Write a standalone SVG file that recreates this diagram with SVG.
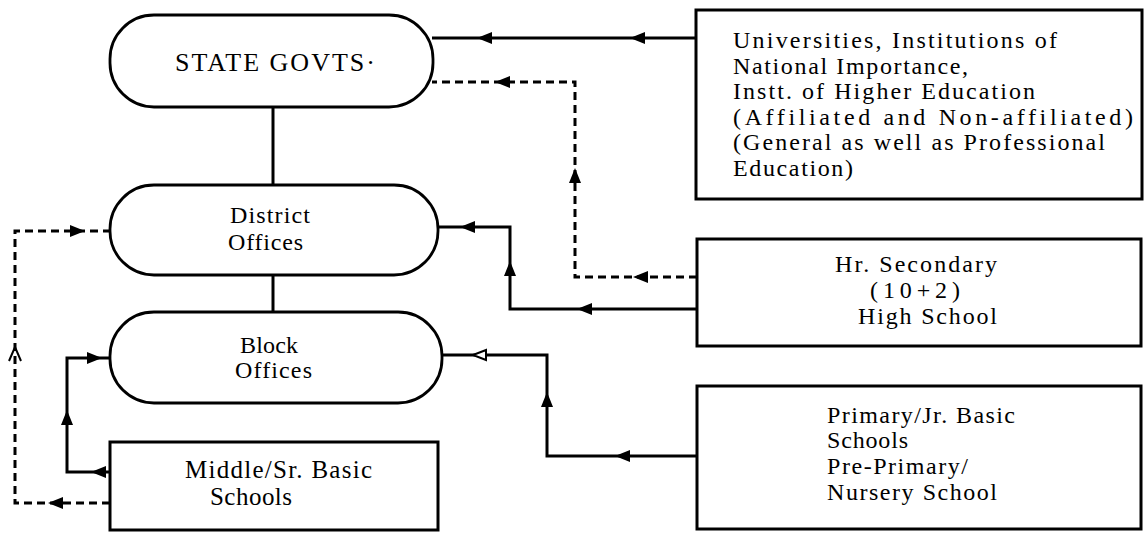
<svg xmlns="http://www.w3.org/2000/svg" width="1145" height="533" viewBox="0 0 1145 533">
<style>
  .box{fill:#fff;stroke:#000;stroke-width:3}
  .pill{fill:#fff;stroke:#000;stroke-width:2.8}
  .ln{fill:none;stroke:#000;stroke-width:3;stroke-linejoin:miter}
  .dash{fill:none;stroke:#000;stroke-width:3;stroke-dasharray:8 5}
  .t{font-family:"Liberation Serif","Times New Roman",serif;fill:#000}
  .r{font-size:24px}
  .h{font-size:24px}
  .l{font-size:24px}
</style>
<defs>
  <path id="ah" d="M0,0 L15,-6 L15,6 Z" fill="#000"/>
  <path id="aho" d="M0,0 L13,-5 L13,5 Z" fill="#fff" stroke="#000" stroke-width="2"/>
</defs>

<g id="connectors">
  <!-- hierarchy lines -->
  <line class="ln" x1="273" y1="107" x2="273" y2="185"/>
  <line class="ln" x1="273" y1="275" x2="273" y2="312"/>
  <!-- Universities -> State -->
  <line class="ln" x1="696" y1="38" x2="432" y2="38"/>
  <use href="#ah" transform="translate(477,38)"/>
  <use href="#ah" transform="translate(630,38)"/>
  <!-- Hr Secondary -> State (dashed) -->
  <polyline class="dash" points="697,277 575,277 575,82 432,82"/>
  <use href="#ah" transform="translate(633,277)"/>
  <use href="#ah" transform="translate(575,168) rotate(90)"/>
  <use href="#ah" transform="translate(495,82)"/>
  <!-- Hr Secondary -> District -->
  <polyline class="ln" points="697,309 510,309 510,227 438,227"/>
  <use href="#ah" transform="translate(577,309)"/>
  <use href="#ah" transform="translate(510,261) rotate(90)"/>
  <use href="#ah" transform="translate(460,227)"/>
  <!-- Primary -> Block -->
  <polyline class="ln" points="697,456 547,456 547,355 442,355"/>
  <use href="#ah" transform="translate(615,456)"/>
  <use href="#ah" transform="translate(547,392) rotate(90)"/>
  <use href="#aho" transform="translate(473,355)"/>
  <!-- Middle -> District (dashed) -->
  <polyline class="dash" points="110,503 15,503 15,231 110,231"/>
  <use href="#ah" transform="translate(48,503)"/>
  <path d="M9,361 L15,347 L21,361" fill="none" stroke="#000" stroke-width="2"/>
  <use href="#ah" transform="translate(85,231) rotate(180)"/>
  <!-- Middle -> Block -->
  <polyline class="ln" points="110,472 67,472 67,358 110,358"/>
  <use href="#ah" transform="translate(91,472)"/>
  <use href="#ah" transform="translate(67,410) rotate(90)"/>
  <use href="#ah" transform="translate(102,358) rotate(180)"/>
</g>

<g id="state">
  <rect class="pill" x="110" y="15" width="323" height="92" rx="44" ry="44"/>
  <text class="t" x="175" y="71" font-size="26" textLength="200" lengthAdjust="spacing">STATE GOVTS·</text>
</g>

<g id="district">
  <rect class="pill" x="110" y="185" width="328" height="90" rx="44" ry="44"/>
  <text class="t l" x="230" y="223" textLength="80" lengthAdjust="spacing">District</text>
  <text class="t l" x="228" y="250" textLength="75" lengthAdjust="spacing">Offices</text>
</g>

<g id="block">
  <rect class="pill" x="110" y="312" width="332" height="91" rx="44" ry="44"/>
  <text class="t l" x="240" y="353" textLength="58" lengthAdjust="spacing">Block</text>
  <text class="t l" x="235" y="378" textLength="77" lengthAdjust="spacing">Offices</text>
</g>

<g id="middle">
  <rect class="box" x="110" y="442" width="328" height="88"/>
  <text class="t" x="185" y="478" font-size="25" textLength="187" lengthAdjust="spacing">Middle/Sr. Basic</text>
  <text class="t" x="210" y="505" font-size="25" textLength="82" lengthAdjust="spacing">Schools</text>
</g>

<g id="universities">
  <rect class="box" x="696" y="10" width="446" height="189"/>
  <text class="t r" x="733" y="48" textLength="324" lengthAdjust="spacing">Universities, Institutions of</text>
  <text class="t r" x="733" y="73.5" textLength="235" lengthAdjust="spacing">National Importance,</text>
  <text class="t r" x="733" y="99" textLength="302" lengthAdjust="spacing">Instt. of Higher Education</text>
  <text class="t r" x="733" y="124.5" textLength="400" lengthAdjust="spacing">(Affiliated and Non-affiliated)</text>
  <text class="t r" x="733" y="150" textLength="372" lengthAdjust="spacing">(General as well as Professional</text>
  <text class="t r" x="733" y="175.5" textLength="120" lengthAdjust="spacing">Education)</text>
</g>

<g id="hrsecondary">
  <rect class="box" x="697" y="239" width="444" height="107"/>
  <text class="t h" x="835" y="272" textLength="162" lengthAdjust="spacing">Hr. Secondary</text>
  <text class="t h" x="870" y="298" textLength="90" lengthAdjust="spacing">(10+2)</text>
  <text class="t h" x="858" y="324" textLength="139" lengthAdjust="spacing">High School</text>
</g>

<g id="primary">
  <rect class="box" x="697" y="386" width="444" height="143"/>
  <text class="t r" x="827" y="423" textLength="188" lengthAdjust="spacing">Primary/Jr. Basic</text>
  <text class="t r" x="827" y="448" textLength="81" lengthAdjust="spacing">Schools</text>
  <text class="t r" x="827" y="474" textLength="141" lengthAdjust="spacing">Pre-Primary/</text>
  <text class="t r" x="827" y="500" textLength="170" lengthAdjust="spacing">Nursery School</text>
</g>
</svg>
